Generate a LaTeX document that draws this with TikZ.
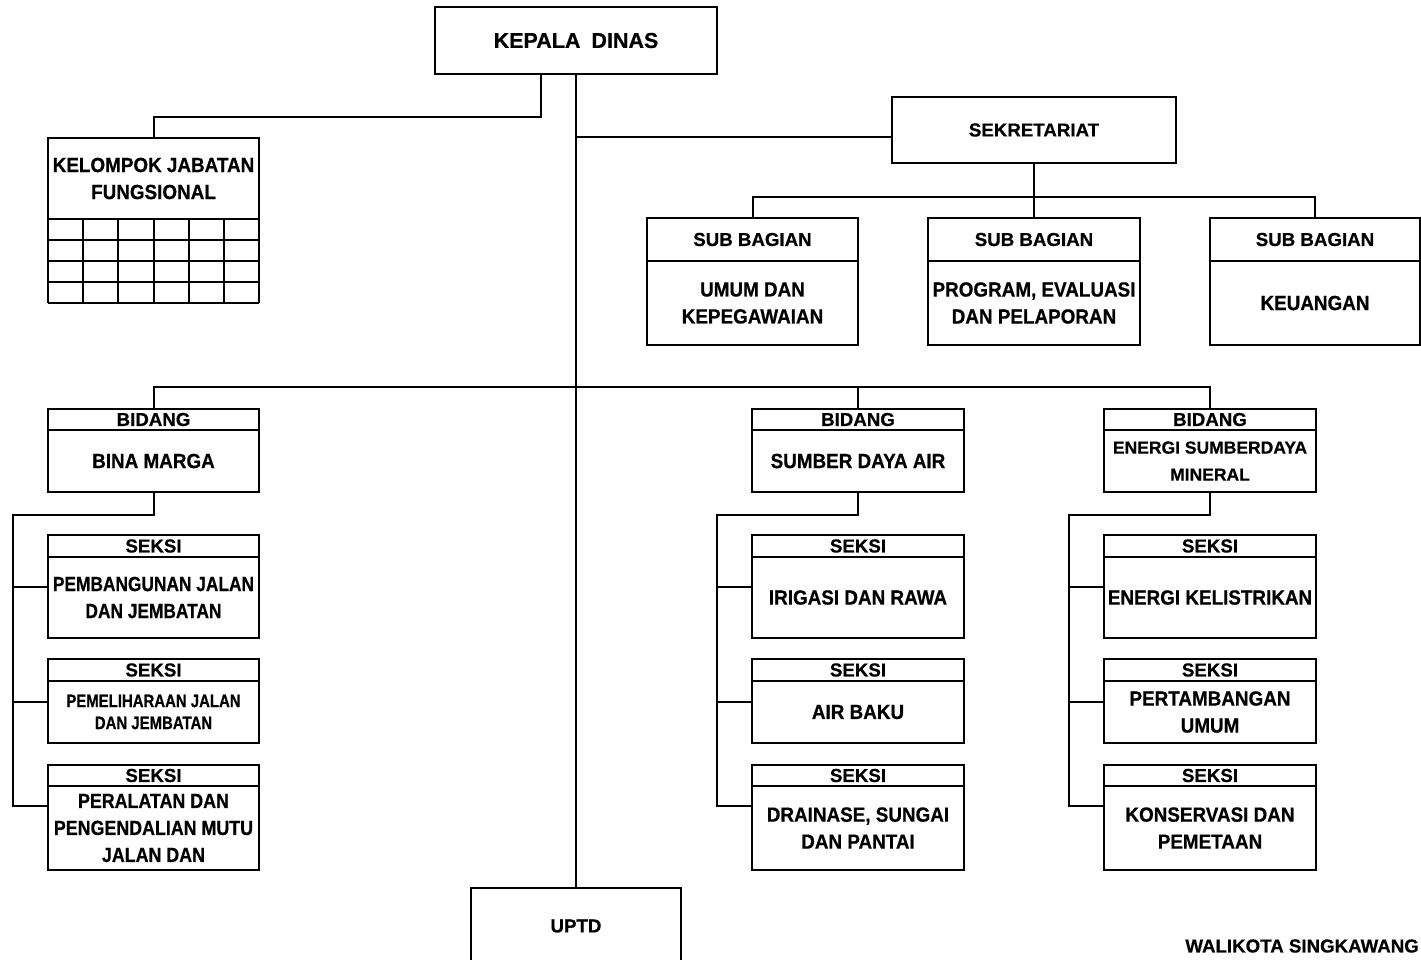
\documentclass[tikz,border=0pt]{standalone}
\usepackage{fontspec}
\setmainfont{Liberation Sans}
\newfontfamily\fN{Liberation Sans}[FakeBold=0.6]
\newfontfamily\fA{Liberation Sans}[FakeStretch=0.92,FakeBold=0.6]
\newfontfamily\fB{Liberation Sans}[FakeStretch=0.87,FakeBold=0.6]
\newfontfamily\fC{Liberation Sans}[FakeStretch=0.845,FakeBold=0.6]
\newfontfamily\fD{Liberation Sans}[FakeStretch=0.83,FakeBold=0.6]
\usetikzlibrary{calc}
\tikzset{
  bx/.style={draw, line width=2pt, inner sep=0pt, align=center,
    font=\fA\bfseries\fontsize{20.5}{27}\selectfont},
  hd/.style={font=\fN\bfseries\fontsize{18.7}{25}\selectfont},
  cb/.style={font=\fB\bfseries\fontsize{20.5}{27}\selectfont},
  cc/.style={font=\fC\bfseries\fontsize{20.5}{27}\selectfont},
  cd/.style={font=\fD\bfseries\fontsize{18}{22}\selectfont},
  mid/.style={font=\fN\bfseries\fontsize{17.5}{27}\selectfont},
  big/.style={font=\fN\bfseries\fontsize{21.5}{27}\selectfont},
  conn/.style={line width=2pt}
}
\newcommand\bx[7][]{\node[bx,#1, minimum width={(#5-#3)*1pt}, minimum height={(#6-#4)*1pt}] (#2) at ({(#3+#5)/2},{(#4+#6)/2}) {#7};}
\begin{document}
\begin{tikzpicture}[x=1pt,y=-1pt]
\path[use as bounding box, clip] (0,0) rectangle (1421,959);
\fill[white] (0,0) rectangle (1421,959);
% top
\bx[big]{kd}{435}{7}{717}{74}{KEPALA\hspace{11pt}DINAS}
\bx[hd]{sek}{892}{97}{1176}{163}{SEKRETARIAT}
% sub bagian
\bx[hd]{sb1h}{647}{218}{858}{261}{SUB BAGIAN}
\bx{sb1b}{647}{261}{858}{345}{UMUM DAN\\KEPEGAWAIAN}
\bx[hd]{sb2h}{928}{218}{1140}{261}{SUB BAGIAN}
\bx{sb2b}{928}{261}{1140}{345}{PROGRAM, EVALUASI\\DAN PELAPORAN}
\bx[hd]{sb3h}{1210}{218}{1420}{261}{SUB BAGIAN}
\bx{sb3b}{1210}{261}{1420}{345}{KEUANGAN}
% kelompok jabatan fungsional
\bx{kjf}{48}{138}{259}{219}{KELOMPOK JABATAN\\FUNGSIONAL}
\foreach \yy in {240,261,282,303} {\draw[conn] (48,\yy) -- (259,\yy);}
\foreach \xx in {48,83,118,154,189,224,259} {\draw[conn] (\xx,219) -- (\xx,303);}
% bidang bina marga
\bx[hd]{bmh}{48}{409}{259}{430}{BIDANG}
\bx{bmb}{48}{430}{259}{492}{BINA MARGA}
\bx[hd]{bm1h}{48}{535}{259}{557}{SEKSI}
\bx[cc]{bm1b}{48}{557}{259}{638}{PEMBANGUNAN JALAN\\DAN JEMBATAN}
\bx[hd]{bm2h}{48}{659}{259}{681}{SEKSI}
\bx[cd]{bm2b}{48}{681}{259}{743}{PEMELIHARAAN JALAN\\DAN JEMBATAN}
\bx[hd]{bm3h}{48}{765}{259}{786}{SEKSI}
\bx[cb]{bm3b}{48}{786}{259}{870}{PERALATAN DAN\\PENGENDALIAN MUTU\\JALAN DAN}
% bidang sumber daya air
\bx[hd]{sdh}{752}{409}{964}{430}{BIDANG}
\bx{sdb}{752}{430}{964}{492}{SUMBER DAYA AIR}
\bx[hd]{sd1h}{752}{535}{964}{557}{SEKSI}
\bx{sd1b}{752}{557}{964}{638}{IRIGASI DAN RAWA}
\bx[hd]{sd2h}{752}{659}{964}{681}{SEKSI}
\bx{sd2b}{752}{681}{964}{743}{AIR BAKU}
\bx[hd]{sd3h}{752}{765}{964}{786}{SEKSI}
\bx{sd3b}{752}{786}{964}{870}{DRAINASE, SUNGAI\\DAN PANTAI}
% bidang energi sumberdaya mineral
\bx[hd]{esh}{1104}{409}{1316}{430}{BIDANG}
\bx[mid]{esb}{1104}{430}{1316}{492}{ENERGI SUMBERDAYA\\MINERAL}
\bx[hd]{es1h}{1104}{535}{1316}{557}{SEKSI}
\bx{es1b}{1104}{557}{1316}{638}{ENERGI KELISTRIKAN}
\bx[hd]{es2h}{1104}{659}{1316}{681}{SEKSI}
\bx{es2b}{1104}{681}{1316}{743}{PERTAMBANGAN\\UMUM}
\bx[hd]{es3h}{1104}{765}{1316}{786}{SEKSI}
\bx{es3b}{1104}{786}{1316}{870}{KONSERVASI DAN\\PEMETAAN}
% uptd
\bx[hd]{uptd}{471}{888}{681}{964}{UPTD}
\node[anchor=east, inner sep=0pt, hd] (wk) at (1419,946) {WALIKOTA SINGKAWANG};
% connectors
\draw[conn] ([xshift=-35pt]kd.south) -- ++(0,42) -| (kjf.north);
\draw[conn] (kd.south) -- (uptd.north);
\coordinate (jsek) at (576,137);
\draw[conn] (jsek) -- (jsek -| sek.west);
\draw[conn] (sek.south) -- ++(0,33) coordinate (jsb);
\draw[conn] (sb1h.north) |- (jsb) -| (sb3h.north);
\draw[conn] (jsb) -- (sb2h.north);
\coordinate (jbd) at (576,387);
\draw[conn] (bmh.north) |- (jbd) -| (esh.north);
\draw[conn] (sdh.north) -- (sdh.north |- jbd);
% bina marga branches
\coordinate (bmL) at (13,806);
\coordinate (bma1) at (13,587);
\coordinate (bma2) at (13,702);
\draw[conn] (bmb.south) -- ++(0,22) -| (bmL) -- (bmL -| bm3b.west);
\draw[conn] (bma1) -- (bma1 -| bm1b.west);
\draw[conn] (bma2) -- (bma2 -| bm2b.west);
% sda branches
\coordinate (sdL) at (717,806);
\coordinate (sda1) at (717,587);
\coordinate (sda2) at (717,702);
\draw[conn] (sdb.south) -- ++(0,22) -| (sdL) -- (sdL -| sd3b.west);
\draw[conn] (sda1) -- (sda1 -| sd1b.west);
\draw[conn] (sda2) -- (sda2 -| sd2b.west);
% esdm branches
\coordinate (esL) at (1069,806);
\coordinate (esa1) at (1069,587);
\coordinate (esa2) at (1069,702);
\draw[conn] (esb.south) -- ++(0,22) -| (esL) -- (esL -| es3b.west);
\draw[conn] (esa1) -- (esa1 -| es1b.west);
\draw[conn] (esa2) -- (esa2 -| es2b.west);
\end{tikzpicture}
\end{document}
